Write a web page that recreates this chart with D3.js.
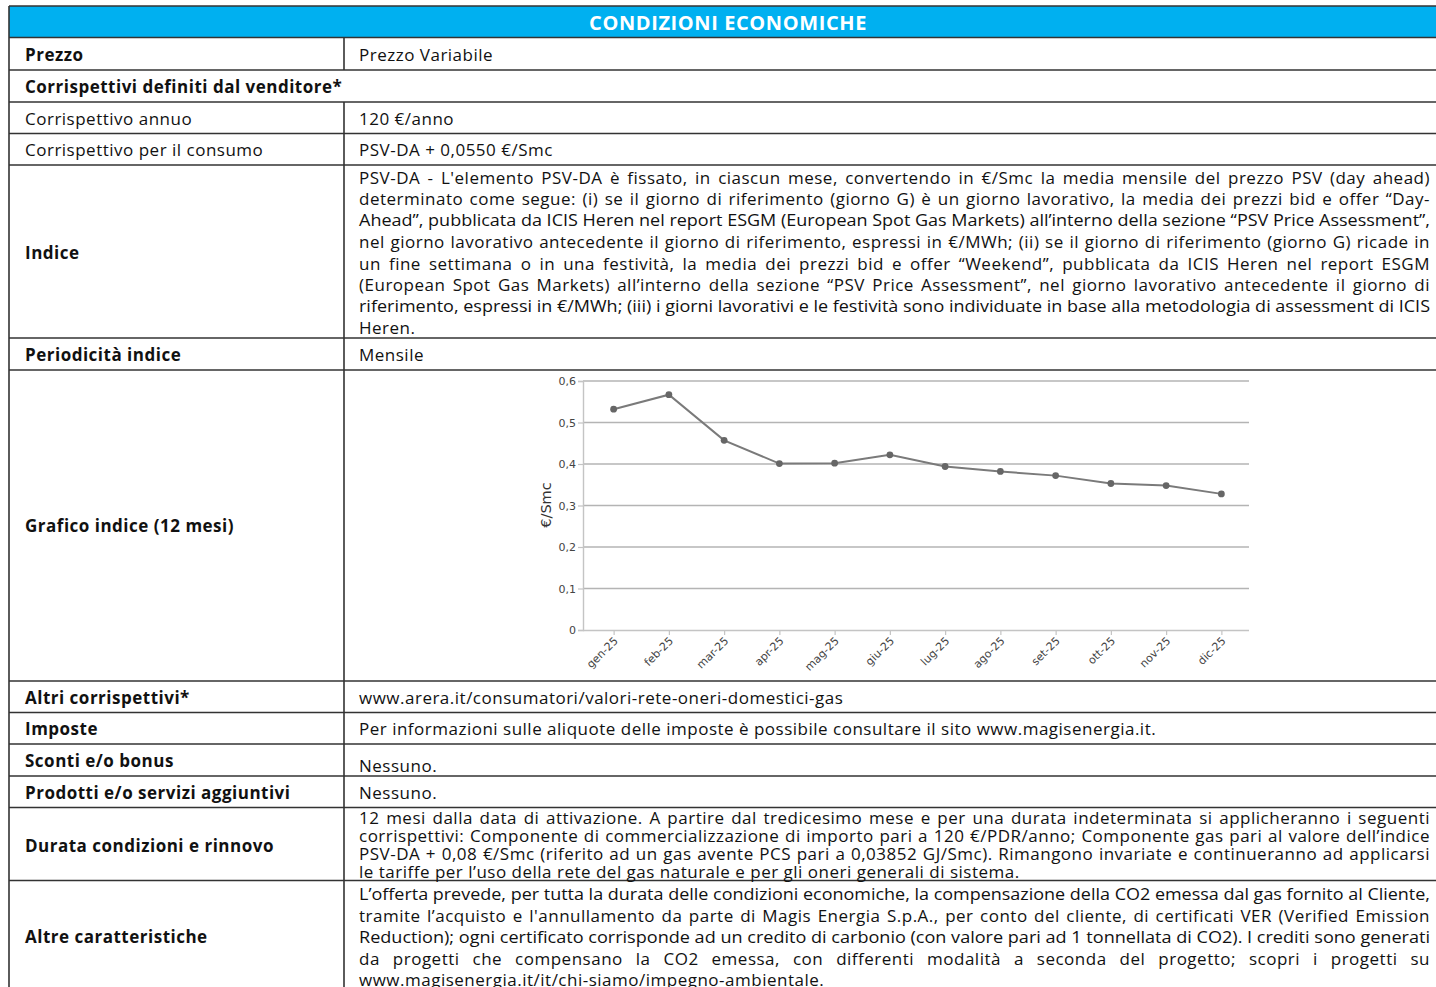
<!DOCTYPE html>
<html>
<head>
<meta charset="utf-8">
<script src="https://cdn.jsdelivr.net/npm/d3@7"></script>
<style>
  html, body { margin: 0; padding: 0; background: #fff; }
  svg { display: block; }
  .txt { font-family: "Open Sans", "Noto Sans", sans-serif; fill: #111; letter-spacing: 0.5px; }
  .chart text { font-family: "DejaVu Sans", Verdana, sans-serif; fill: #444; }
</style>
</head>
<body>
<svg id="c" width="1436" height="987"></svg>
<script>
// ---------------- DATA ----------------
const title = "CONDIZIONI ECONOMICHE";
const rowLabels = [
  "Prezzo",
  "Corrispettivi definiti dal venditore*",
  "Corrispettivo annuo",
  "Corrispettivo per il consumo",
  "Indice",
  "Periodicità indice",
  "Grafico indice (12 mesi)",
  "Altri corrispettivi*",
  "Imposte",
  "Sconti e/o bonus",
  "Prodotti e/o servizi aggiuntivi",
  "Durata condizioni e rinnovo",
  "Altre caratteristiche"
];
const rowBold = [true, true, false, false, true, true, true, true, true, true, true, true, true];
const rowContents = [
  ["Prezzo Variabile"],
  [],
  ["120 €/anno"],
  ["PSV-DA + 0,0550 €/Smc"],
  [
    "PSV-DA - L'elemento PSV-DA è fissato, in ciascun mese, convertendo in €/Smc la media mensile del prezzo PSV (day ahead)",
    "determinato come segue: (i) se il giorno di riferimento (giorno G) è un giorno lavorativo, la media dei prezzi bid e offer “Day-",
    "Ahead”, pubblicata da ICIS Heren nel report ESGM (European Spot Gas Markets) all’interno della sezione “PSV Price Assessment”,",
    "nel giorno lavorativo antecedente il giorno di riferimento, espressi in €/MWh; (ii) se il giorno di riferimento (giorno G) ricade in",
    "un fine settimana o in una festività, la media dei prezzi bid e offer “Weekend”, pubblicata da ICIS Heren nel report ESGM",
    "(European Spot Gas Markets) all’interno della sezione “PSV Price Assessment”, nel giorno lavorativo antecedente il giorno di",
    "riferimento, espressi in €/MWh; (iii) i giorni lavorativi e le festività sono individuate in base alla metodologia di assessment di ICIS",
    "Heren."
  ],
  ["Mensile"],
  [],
  ["www.arera.it/consumatori/valori-rete-oneri-domestici-gas"],
  ["Per informazioni sulle aliquote delle imposte è possibile consultare il sito www.magisenergia.it."],
  ["Nessuno."],
  ["Nessuno."],
  [
    "12 mesi dalla data di attivazione. A partire dal tredicesimo mese e per una durata indeterminata si applicheranno i seguenti",
    "corrispettivi: Componente di commercializzazione di importo pari a 120 €/PDR/anno; Componente gas pari al valore dell’indice",
    "PSV-DA + 0,08 €/Smc (riferito ad un gas avente PCS pari a 0,03852 GJ/Smc). Rimangono invariate e continueranno ad applicarsi",
    "le tariffe per l’uso della rete del gas naturale e per gli oneri generali di sistema."
  ],
  [
    "L’offerta prevede, per tutta la durata delle condizioni economiche, la compensazione della CO2 emessa dal gas fornito al Cliente,",
    "tramite l’acquisto e l'annullamento da parte di Magis Energia S.p.A., per conto del cliente, di certificati VER (Verified Emission",
    "Reduction); ogni certificato corrisponde ad un credito di carbonio (con valore pari ad 1 tonnellata di CO2). I crediti sono generati",
    "da progetti che compensano la CO2 emessa, con differenti modalità a seconda del progetto; scopri i progetti su",
    "www.magisenergia.it/it/chi-siamo/impegno-ambientale."
  ]
];
const months = ["gen-25","feb-25","mar-25","apr-25","mag-25","giu-25","lug-25","ago-25","set-25","ott-25","nov-25","dic-25"];
const psvValues = [0.532,0.567,0.457,0.401,0.402,0.422,0.394,0.382,0.372,0.353,0.348,0.328];
const yTicks = [0,0.1,0.2,0.3,0.4,0.5,0.6];
const yTitle = "€/Smc";

// ---------------- LAYOUT ----------------
const svg = d3.select("#c");
const L = 9, R = 1446, COL = 344, TOP = 6, HEAD_B = 37.5;
const rowEdges = [37.5, 70, 102, 133.5, 165, 338, 370, 681, 712.5, 744, 776, 807.5, 880.5, 1000];
const textX1 = 25, textX2 = 359, textEnd = 1430;
const fontSize = 17;

svg.append("rect").attr("width",1436).attr("height",987).attr("fill","#fff");

// header
svg.append("rect").attr("x",L).attr("y",TOP).attr("width",R-L).attr("height",HEAD_B-TOP).attr("fill","#00b0f0");
svg.append("text").attr("class","txt").attr("x",728).attr("y",22.5)
  .attr("text-anchor","middle").attr("dominant-baseline","central")
  .attr("font-size",20).attr("font-weight","bold").style("fill","#fff").style("letter-spacing","0.6px").text(title);

const lineColor = "#333";
[TOP].concat(rowEdges.slice(0,-1)).forEach(y => {
  svg.append("line").attr("x1",L).attr("x2",R).attr("y1",y).attr("y2",y)
    .attr("stroke",lineColor).attr("stroke-width",1.6);
});
svg.append("line").attr("x1",L).attr("x2",L).attr("y1",TOP).attr("y2",987).attr("stroke",lineColor).attr("stroke-width",1.6);
rowLabels.forEach((lab,i) => {
  if (i === 1) return;
  svg.append("line").attr("x1",COL).attr("x2",COL).attr("y1",rowEdges[i]).attr("y2",rowEdges[i+1])
    .attr("stroke",lineColor).attr("stroke-width",1.6);
});

function measure(w, bold, fs) {
  const tmp = svg.append("text").attr("class","txt").attr("font-size",fs)
    .attr("font-weight", bold ? "bold" : "normal").text(w);
  const wd = tmp.node().getComputedTextLength(); tmp.remove(); return wd;
}

function drawLine(x, y, str, width, justify, bold, fs) {
  fs = fs || fontSize;
  const t = svg.append("text").attr("class","txt").attr("x",x).attr("y",y)
    .attr("dominant-baseline","central").attr("font-size",fs)
    .attr("font-weight", bold ? "bold" : "normal").text(str);
  if (!justify) return t;
  const nat = t.node().getComputedTextLength();
  const words = str.split(" ");
  if (words.length < 2) return t;
  if (nat > width) {
    t.style("letter-spacing","0px");
    t.attr("textLength", width).attr("lengthAdjust","spacingAndGlyphs");
    return t;
  }
  t.text(null);
  const widths = words.map(w => measure(w, bold, fs));
  const gap = (width - d3.sum(widths)) / (words.length - 1);
  let cx = x;
  words.forEach((w,k) => {
    t.append("tspan").attr("x",cx).text(w);
    cx += widths[k] + gap;
  });
  return t;
}

const labelCY = [54, 86, 118, 149.5, 252, 354, 525, 697, 728, 760, 792, 845, 936];
const contentStart = [54, null, 118, 149.5, 176.5, 354, null, 697, 728, 765, 792, 817, 893.5];
const contentStep  = [0, 0, 0, 0, 21.55, 0, 0, 0, 0, 0, 0, 18, 21.4];

rowLabels.forEach((lab,i) => {
  drawLine(textX1, labelCY[i], lab, 0, false, rowBold[i]);
  const lines = rowContents[i];
  lines.forEach((ln,k) => {
    const just = lines.length > 1 && k < lines.length - 1;
    drawLine(textX2, contentStart[i] + k*contentStep[i], ln, textEnd - textX2, just, false);
  });
});

// ---------------- CHART ----------------
const g = svg.append("g").attr("class","chart");
const plotL = 583, plotR = 1249, plotT = 381, plotB = 630;
const x = d3.scalePoint().domain(months).range([586, 1249]).padding(0.5);
const y = d3.scaleLinear().domain([0, 0.6]).range([plotB, plotT]);
const fmt = d3.formatLocale({decimal: ",", thousands: ".", grouping: [3], currency: ["€",""]}).format("~g");

g.selectAll("line.grid").data(yTicks.filter(d => d > 0)).join("line")
  .attr("class","grid").attr("x1",plotL).attr("x2",plotR)
  .attr("y1",d => y(d)).attr("y2",d => y(d))
  .attr("stroke","#b4b4b4").attr("stroke-width",1.4);

const yAxis = g.append("g").attr("transform",`translate(${plotL},0)`)
  .call(d3.axisLeft(y).tickValues(yTicks).tickFormat(d => d === 0 ? "0" : fmt(d)).tickSize(5).tickPadding(2));
yAxis.select(".domain").attr("stroke","#c4c4c4").attr("stroke-width",1.4);
yAxis.selectAll(".tick line").attr("stroke","#c4c4c4").attr("stroke-width",1.2);
yAxis.selectAll(".tick text").attr("font-size",11).style("fill","#444");

const xAxis = g.append("g").attr("transform",`translate(0,${plotB})`)
  .call(d3.axisBottom(x).tickSize(5).tickSizeOuter(0));
xAxis.select(".domain").attr("d",`M${plotL},0.5H${plotR}`).attr("stroke","#c4c4c4").attr("stroke-width",1.4);
xAxis.selectAll(".tick line").attr("stroke","#c4c4c4").attr("stroke-width",1.2);
xAxis.selectAll(".tick text").attr("font-size",11).style("fill","#444")
  .attr("text-anchor","end").attr("dy",null).attr("y",null)
  .attr("transform","translate(2,9) rotate(-45)").attr("dominant-baseline","central");

g.append("text").attr("transform","translate(546,505) rotate(-90)")
  .attr("text-anchor","middle").attr("dominant-baseline","central")
  .attr("font-size",14.5).style("fill","#333").text(yTitle);

g.append("path").datum(psvValues)
  .attr("d", d3.line().x((d,i) => x(months[i])).y(d => y(d)))
  .attr("fill","none").attr("stroke","#7a7a7a").attr("stroke-width",2);
g.selectAll("circle.pt").data(psvValues).join("circle")
  .attr("class","pt").attr("cx",(d,i) => x(months[i])).attr("cy",d => y(d))
  .attr("r",3.4).attr("fill","#666");
</script>
</body>
</html>
